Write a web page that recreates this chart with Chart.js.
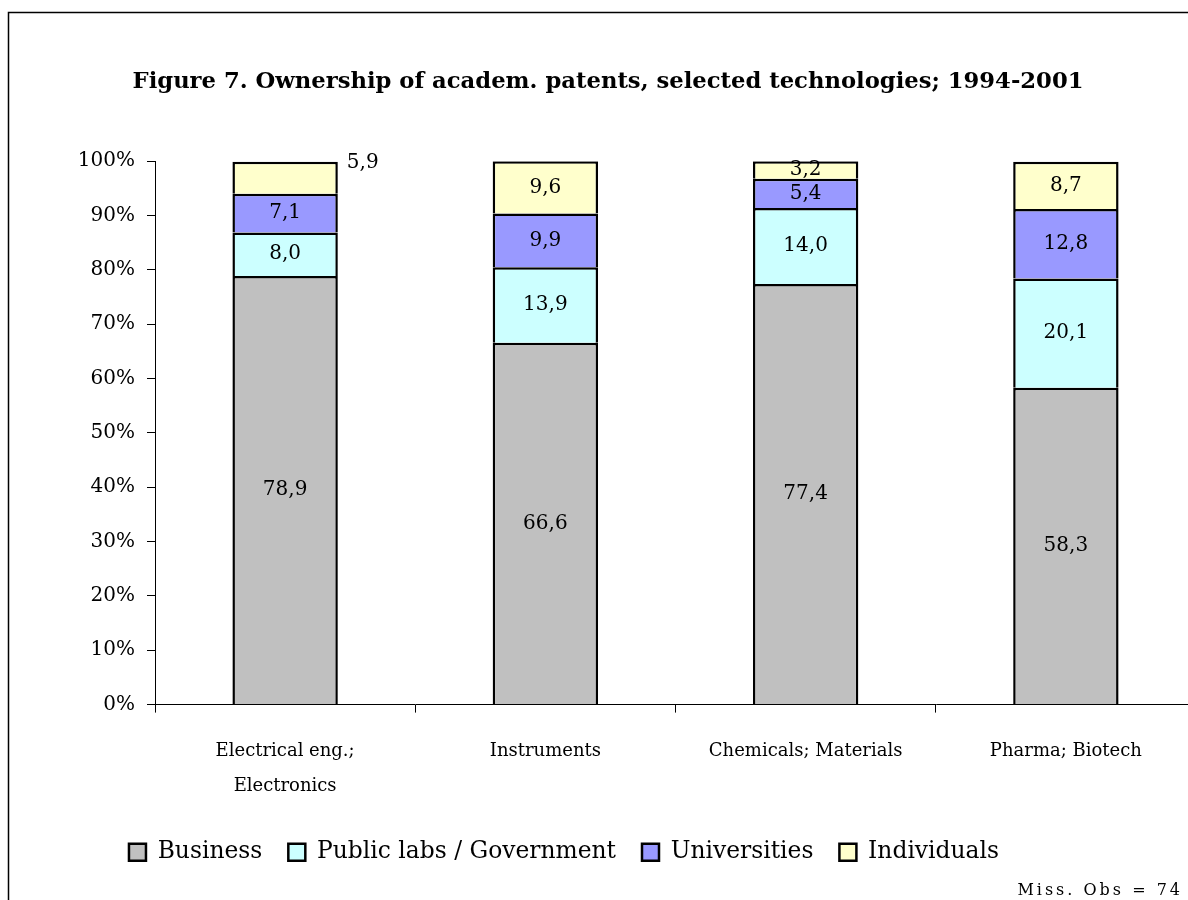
<!DOCTYPE html>
<html>
<head>
<meta charset="utf-8">
<script src="https://cdn.jsdelivr.net/npm/chart.js@4.4.1/dist/chart.umd.min.js"></script>
<style>
  html, body { margin: 0; padding: 0; background: #fff; overflow: hidden; }
  #wrap { width: 1220px; height: 900px; }
</style>
</head>
<body>
<div id="wrap"><canvas id="chart" width="1220" height="900"></canvas></div>
<script>
const categories = [['Electrical eng.;', 'Electronics'], 'Instruments', 'Chemicals; Materials', 'Pharma; Biotech'];
const seriesNames = ['Business', 'Public labs / Government', 'Universities', 'Individuals'];
const business = [78.9, 66.6, 77.4, 58.3];
const publicLabs = [8.0, 13.9, 14.0, 20.1];
const universities = [7.1, 9.9, 5.4, 12.8];
const individuals = [5.9, 9.6, 3.2, 8.7];
const titleText = 'Figure 7. Ownership of academ. patents, selected technologies; 1994-2001';
const noteText = 'Miss. Obs = 74';

const serif = "'DejaVu Serif', 'Liberation Serif', serif";
const colors = ['#c0c0c0', '#ccffff', '#9999ff', '#ffffcc'];

// labels that Excel put beside the bar instead of inside it: [dataset, index]
const outsideLabels = [[3, 0]];

const framePlugin = {
  id: 'frame',
  beforeDraw(chart) {
    const ctx = chart.ctx;
    ctx.save();
    ctx.fillStyle = '#fff';
    ctx.fillRect(0, 0, chart.width, chart.height);
    ctx.strokeStyle = '#000';
    ctx.lineWidth = 1.5;
    ctx.strokeRect(8.5, 12.5, 3000, 3000);
    ctx.restore();
  },
  afterLayout(chart) {
    // the original has the legend a bit left and the title a bit right of centre
    chart.legend.left -= 34;
    chart.legend.right -= 34;
    chart.titleBlock.left += 10;
    chart.titleBlock.right += 10;
  },
  afterDraw(chart) {
    const ctx = chart.ctx;
    ctx.save();
    ctx.font = '16px ' + serif;
    ctx.letterSpacing = '3px';
    ctx.fillStyle = '#000';
    ctx.textAlign = 'right';
    ctx.textBaseline = 'middle';
    ctx.fillText(noteText, 1183, 891);
    ctx.restore();
  }
};

const valueLabels = {
  id: 'valueLabels',
  afterDatasetsDraw(chart) {
    const ctx = chart.ctx;
    ctx.save();
    ctx.font = '20px ' + serif;
    ctx.fillStyle = '#000';
    chart.data.datasets.forEach((ds, di) => {
      const meta = chart.getDatasetMeta(di);
      meta.data.forEach((bar, i) => {
        const txt = ds.data[i].toFixed(1).replace('.', ',');
        const outside = outsideLabels.some(p => p[0] === di && p[1] === i);
        ctx.textBaseline = 'middle';
        if (outside) {
          ctx.textAlign = 'left';
          ctx.fillText(txt, bar.x + bar.width / 2 + 9, bar.y + 1);
        } else {
          ctx.textAlign = 'center';
          ctx.fillText(txt, bar.x, (bar.y + bar.base) / 2);
        }
      });
    });
    ctx.restore();
  }
};

const ctx = document.getElementById('chart').getContext('2d');
new Chart(ctx, {
  type: 'bar',
  data: {
    labels: categories,
    datasets: [business, publicLabs, universities, individuals].map((vals, i) => ({
      label: seriesNames[i],
      data: vals,
      backgroundColor: colors[i],
      borderColor: '#000',
      borderWidth: 2.5,
      borderSkipped: 'start',
      barPercentage: 0.405,
      categoryPercentage: 1
    }))
  },
  options: {
    responsive: false,
    animation: false,
    layout: { padding: { left: 0, right: 24, top: 0, bottom: 26 } },
    scales: {
      x: {
        stacked: true,
        grid: { offset: true, drawOnChartArea: false, drawTicks: true, tickLength: 8, color: '#000' },
        border: { display: true, color: '#000', width: 1 },
        ticks: { color: '#000', padding: 22, maxRotation: 0, font: { family: serif, size: 18, lineHeight: 1.9 } },
        afterFit(scale) { scale.height = 110; }
      },
      y: {
        stacked: true,
        min: 0,
        max: 100,
        grid: { drawOnChartArea: false, drawTicks: true, tickLength: 8, color: '#000' },
        border: { display: true, color: '#000', width: 1 },
        ticks: {
          stepSize: 10,
          color: '#000',
          padding: 12,
          font: { family: serif, size: 20 },
          callback: v => v + '%'
        },
        afterFit(scale) { scale.width = 155; }
      }
    },
    plugins: {
      title: {
        display: true,
        text: titleText,
        color: '#000',
        font: { family: serif, size: 22.7, weight: 'bold' },
        padding: { top: 68, bottom: 66 }
      },
      legend: {
        position: 'bottom',
        labels: {
          color: '#000',
          boxWidth: 17,
          boxHeight: 17,
          padding: 26,
          font: { family: serif, size: 23.4 }
        }
      },
      tooltip: { enabled: false }
    }
  },
  plugins: [framePlugin, valueLabels]
});
</script>
</body>
</html>
